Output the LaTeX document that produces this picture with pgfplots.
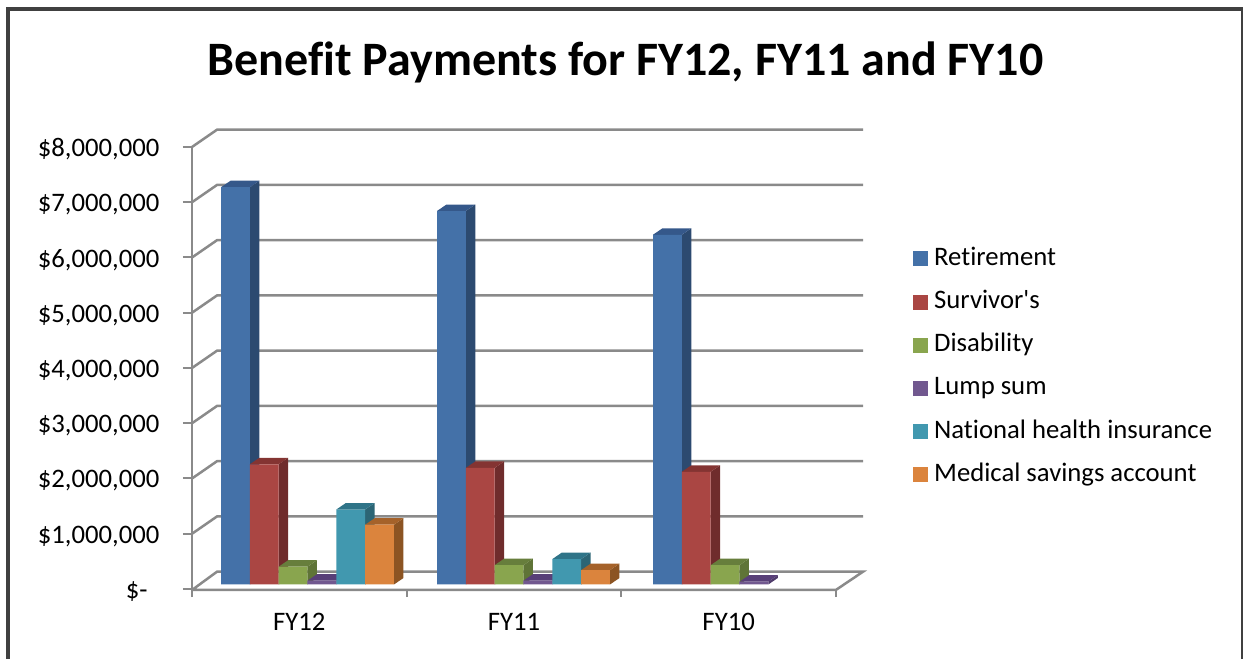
\documentclass[border=0pt]{standalone}
\usepackage{fontspec}
\setmainfont[Ligatures={CommonOff,TeXOff}]{Carlito}
\usepackage{pgfplots}
\pgfplotsset{compat=1.18}
\definecolor{gridg}{HTML}{8A8A8A}
\definecolor{frameg}{HTML}{404040}
\definecolor{aF}{HTML}{4471A8}\definecolor{aS}{HTML}{2C4A70}\definecolor{aT}{HTML}{35588A}
\definecolor{bF}{HTML}{AA4643}\definecolor{bS}{HTML}{6F2C2C}\definecolor{bT}{HTML}{843432}
\definecolor{cF}{HTML}{89A54E}\definecolor{cS}{HTML}{5F7437}\definecolor{cT}{HTML}{677E3C}
\definecolor{dF}{HTML}{71588F}\definecolor{dS}{HTML}{4F3B6B}\definecolor{dT}{HTML}{583F78}
\definecolor{eF}{HTML}{4198AF}\definecolor{eS}{HTML}{2C6575}\definecolor{eT}{HTML}{2F7488}
\definecolor{fF}{HTML}{DB843D}\definecolor{fS}{HTML}{8C5423}\definecolor{fT}{HTML}{A5622A}
% geometry (x in category units, y in $ million)
\def\bw{0.1343}\def\ddx{0.0443}\def\ddy{0.11765}
\def\gA{0.538}\def\gB{1.5442}\def\gC{2.5504}
\newcommand{\Faces}[5]{% group x, index, value, side, top
  \pgfmathsetmacro\xl{#1+(#2-3)*\bw}
  \pgfmathsetmacro\xr{\xl+\bw}
  \pgfmathsetmacro\xrd{\xr+\ddx}
  \pgfmathsetmacro\xld{\xl+\ddx}
  \pgfmathsetmacro\vd{#3+\ddy}
  \addplot[forget plot,draw=none,fill=#4] coordinates {(\xr,0) (\xrd,\ddy) (\xrd,\vd) (\xr,#3)} --cycle;
  \addplot[forget plot,draw=none,fill=#5] coordinates {(\xl,#3) (\xld,\vd) (\xrd,\vd) (\xr,#3)} --cycle;
}
\newcommand{\BarSet}[6]{% index, colour prefix, legend, FY12, FY11, FY10 (may be empty)
  \Faces{\gA}{#1}{#4}{#2S}{#2T}
  \Faces{\gB}{#1}{#5}{#2S}{#2T}
  \if\relax\detokenize{#6}\relax
    \addplot[ybar,bar width=\bw,bar shift={(#1-2.5)*\bw},fill=#2F,draw=none,squareleg]
      coordinates {(\gA,#4) (\gB,#5)};
  \else
    \Faces{\gC}{#1}{#6}{#2S}{#2T}
    \addplot[ybar,bar width=\bw,bar shift={(#1-2.5)*\bw},fill=#2F,draw=none,squareleg]
      coordinates {(\gA,#4) (\gB,#5) (\gC,#6)};
  \fi
  \addlegendentry{#3}
}
\pgfplotsset{squareleg/.style={legend image code/.code={\fill[##1,draw=none] (0pt,-6.5pt) rectangle (15pt,8.5pt);\path (21pt,0pt);}}}
\begin{document}
\begin{tikzpicture}[x=1pt,y=1pt]
\path[use as bounding box] (0,0) rectangle (1243,659);
\draw[frameg,line width=4pt] (8,-20) -- (8,650) -- (1243,650) -- (1243,-20);
\node[font=\fontsize{48}{56}\selectfont\bfseries] at (625.5,597) {Benefit Payments for FY12, FY11 and FY10};
\begin{axis}[
  at={(192pt,69pt)},anchor=south west,
  scale only axis,width=671pt,height=462pt,
  xmin=0,xmax=3.1258,ymin=-0.09955,ymax=8.2624,
  clip=false,
  axis lines=left,axis line style={draw=none,-},
  separate axis lines,
  ytick={-0.08145,0.91855,1.91855,2.91855,3.91855,4.91855,5.91855,6.91855,7.91855},
  yticklabels={{\$-\rule{12pt}{0pt}},{\$1,000,000},{\$2,000,000},{\$3,000,000},{\$4,000,000},{\$5,000,000},{\$6,000,000},{\$7,000,000},{\$8,000,000}},
  xtick={0.5,1.5,2.5},xticklabels={FY12,FY11,FY10},
  minor xtick={0,1,2,3},
  major x tick style={draw=none},
  minor x tick style={gridg,line width=2pt},
  minor tick length=7pt,
  y tick style={gridg,line width=2pt},
  major tick length=9pt,
  tick align=outside,
  tick label style={font=\fontsize{26.7}{32}\selectfont},
  yticklabel style={anchor=east,xshift=-20pt,yshift=-2.5pt},
  xticklabel style={yshift=-11pt,text height=17pt,text depth=0pt},
  legend style={at={(1.0745,0.74)},anchor=north west,draw=none,fill=none,inner sep=0pt,
    row sep=20.2pt,font=\fontsize{26.7}{32}\selectfont,
    nodes={inner sep=0pt,text height=17pt,text depth=6pt},cells={anchor=west}},
  legend cell align=left,
]
% walls and floor
\addplot[forget plot,gridg,line width=2.5pt] coordinates {(0,-0.09955) (2.9992,-0.09955) (3.1258,0.23167) (0.1165,0.23167) (0,-0.09955)};
\addplot[forget plot,gridg,line width=2.5pt] coordinates {(0,-0.08145) (0,7.91855)};
\addplot[forget plot,gridg,line width=2.5pt] coordinates {(0,0.91855) (0.1165,1.23167) (3.1258,1.23167)};
\addplot[forget plot,gridg,line width=2.5pt] coordinates {(0,1.91855) (0.1165,2.23167) (3.1258,2.23167)};
\addplot[forget plot,gridg,line width=2.5pt] coordinates {(0,2.91855) (0.1165,3.23167) (3.1258,3.23167)};
\addplot[forget plot,gridg,line width=2.5pt] coordinates {(0,3.91855) (0.1165,4.23167) (3.1258,4.23167)};
\addplot[forget plot,gridg,line width=2.5pt] coordinates {(0,4.91855) (0.1165,5.23167) (3.1258,5.23167)};
\addplot[forget plot,gridg,line width=2.5pt] coordinates {(0,5.91855) (0.1165,6.23167) (3.1258,6.23167)};
\addplot[forget plot,gridg,line width=2.5pt] coordinates {(0,6.91855) (0.1165,7.23167) (3.1258,7.23167)};
\addplot[forget plot,gridg,line width=2.5pt] coordinates {(0,7.91855) (0.1165,8.23167) (3.1258,8.23167)};
% bars
\BarSet{0}{a}{Retirement}{7.19}{6.76}{6.33}
\BarSet{1}{b}{Survivor's}{2.176}{2.11}{2.04}
\BarSet{2}{c}{Disability}{0.322}{0.35}{0.35}
\BarSet{3}{d}{Lump sum}{0.069}{0.07}{0.05}
\BarSet{4}{e}{National health insurance}{1.357}{0.46}{}
\BarSet{5}{f}{Medical savings account}{1.082}{0.26}{}
\end{axis}
\end{tikzpicture}
\end{document}
